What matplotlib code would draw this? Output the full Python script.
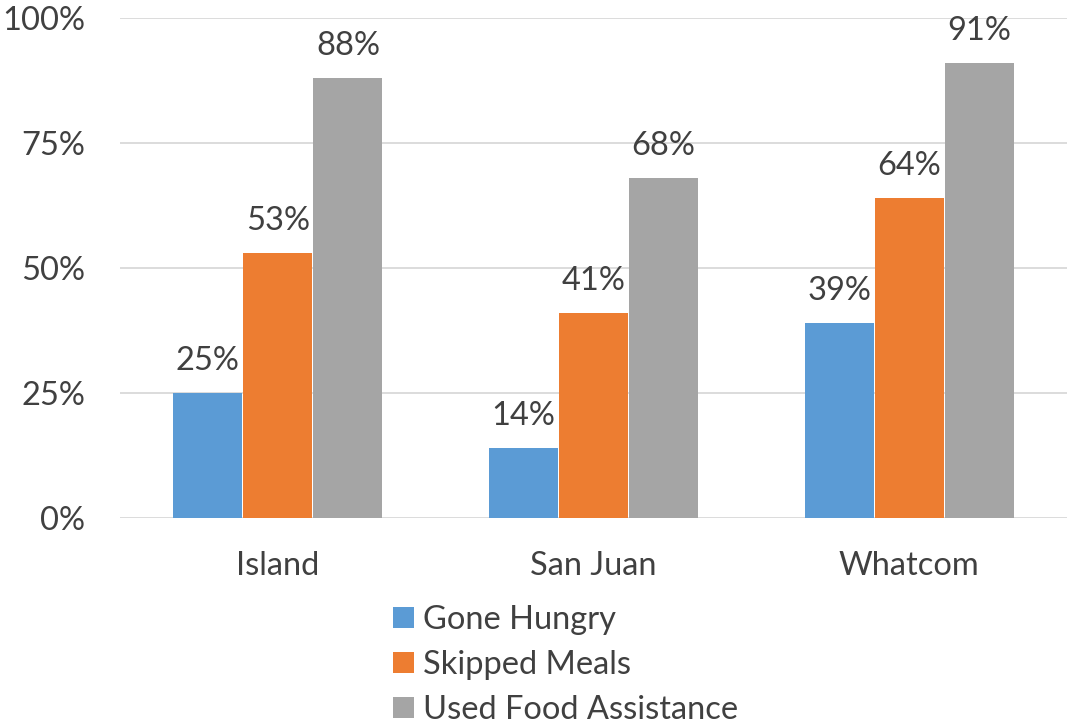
import matplotlib
matplotlib.use("Agg")
import matplotlib.pyplot as plt
import numpy as np

categories = ["Island", "San Juan", "Whatcom"]
series = ["Gone Hungry", "Skipped Meals", "Used Food Assistance"]
gone_hungry = [25, 14, 39]
skipped_meals = [53, 41, 64]
used_food = [88, 68, 91]
colors = ["#5B9BD5", "#ED7D31", "#A5A5A5"]

plt.rcParams['font.family'] = ['Lato', 'DejaVu Sans']
fig = plt.figure(figsize=(10.68, 7.24), dpi=100)
ax = fig.add_axes([120/1068, 206/724, 947/1068, 500/724])

FS = 23.5
x = np.arange(len(categories))
w = 0.222
vals = [gone_hungry, skipped_meals, used_food]
for i, (name, v, c) in enumerate(zip(series, vals, colors)):
    bars = ax.bar(x + (i - 1) * w, v, width=w - 0.003, color=c, label=name, zorder=3)
    for b, val in zip(bars, v):
        ax.annotate(f"{val}%", (b.get_x() + b.get_width() / 2, val), xytext=(0, 12),
                    textcoords="offset points", ha="center", va="bottom",
                    fontsize=FS, color="#404040")

ax.set_xlim(-0.5, 2.5)
ax.set_ylim(0, 100)
ax.set_yticks([0, 25, 50, 75, 100])
ax.set_yticklabels([f"{t}%" for t in [0, 25, 50, 75, 100]])
ax.set_xticks(x)
ax.set_xticklabels(categories)
ax.tick_params(axis="both", length=0, labelsize=FS, labelcolor="#404040")
ax.tick_params(axis="y", pad=25)
ax.tick_params(axis="x", pad=24)
ax.grid(axis="y", color="#D9D9D9", linewidth=1.3, zorder=0)
for s in ax.spines.values():
    s.set_visible(False)

leg = fig.legend(loc="upper left", bbox_to_anchor=(377/1068, 1 - 589/724), frameon=False,
                 fontsize=FS, handlelength=0.62, handleheight=0.62, handletextpad=0.3,
                 labelspacing=0.45, borderpad=0, labelcolor="#404040")

fig.savefig("out.png", dpi=100)
